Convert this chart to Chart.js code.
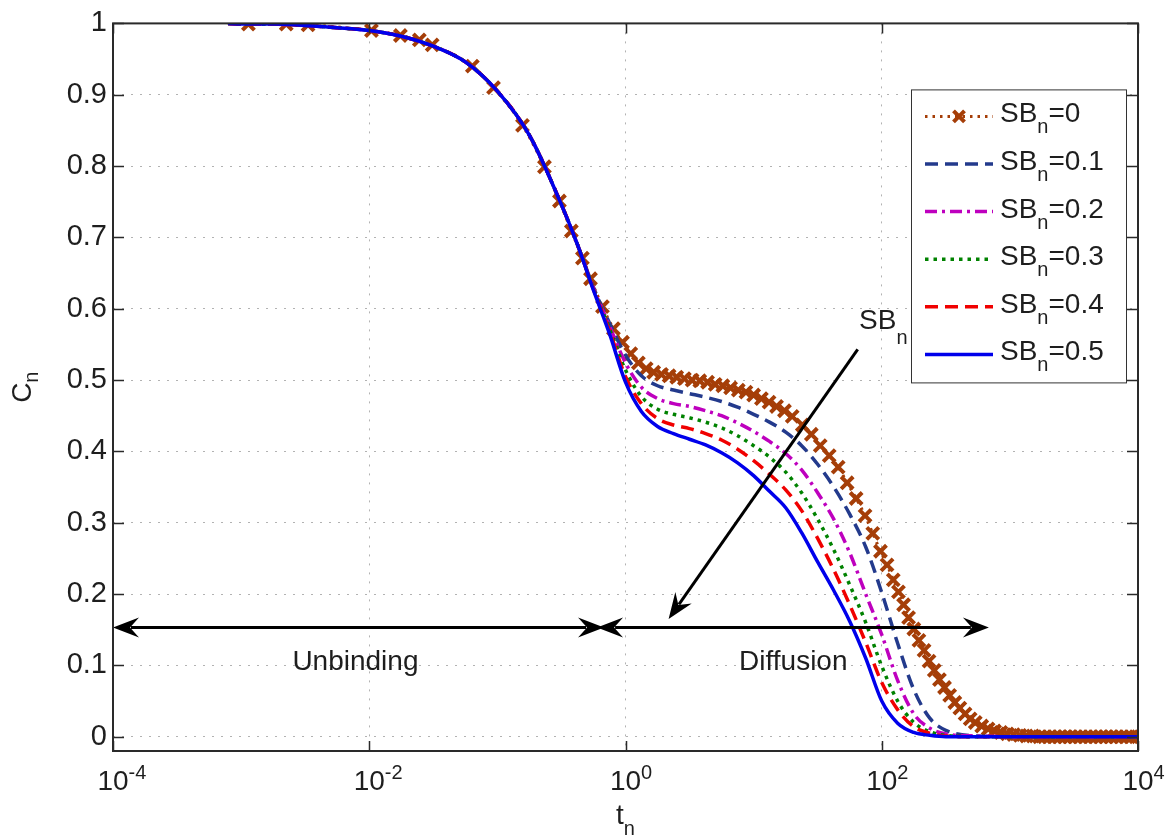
<!DOCTYPE html>
<html>
<head>
<meta charset="utf-8">
<title>Cn vs tn</title>
<script src="https://cdn.jsdelivr.net/npm/chart.js@4.4.1/dist/chart.umd.min.js"></script>
<style>
  html, body { margin: 0; padding: 0; background: #fff; }
  #wrap { width: 1166px; height: 840px; }
</style>
</head>
<body>
<div id="wrap"><canvas id="cn-chart" width="1166" height="840"></canvas></div>
<script>
// shared time grid (1/8 decade steps) for the five smooth curves
const tGrid = [0.00079, 0.001, 0.00178, 0.00316, 0.00562, 0.01, 0.0178, 0.0316, 0.0562, 0.1,
  0.178, 0.316, 0.422, 0.562, 0.75, 1, 1.33, 1.78, 2.37, 3.16,
  4.22, 5.62, 7.5, 10, 13.3, 17.8, 23.7, 31.6, 42.2, 56.2,
  75, 100, 133, 178, 237, 316, 562, 1000, 3162, 10000];

// early part is the same for every SBn
const headC = [1.000, 0.999, 0.999, 0.997, 0.994, 0.990, 0.982, 0.968, 0.946, 0.905, 0.843, 0.746, 0.690];

const sb01 = headC.concat([0.630, 0.580, 0.535, 0.506, 0.492, 0.486, 0.481, 0.476, 0.470, 0.462,
  0.452, 0.441, 0.427, 0.408, 0.382, 0.350, 0.312, 0.266, 0.202, 0.131,
  0.066, 0.026, 0.009, 0.001, 0, 0, 0]);
const sb02 = headC.concat([0.629, 0.576, 0.524, 0.490, 0.474, 0.467, 0.463, 0.457, 0.450, 0.440,
  0.428, 0.414, 0.397, 0.374, 0.342, 0.305, 0.258, 0.200, 0.143, 0.079,
  0.032, 0.012, 0.004, 0.001, 0, 0, 0]);
const sb03 = headC.concat([0.628, 0.572, 0.514, 0.477, 0.459, 0.452, 0.447, 0.441, 0.433, 0.422,
  0.408, 0.392, 0.371, 0.342, 0.305, 0.262, 0.213, 0.160, 0.099, 0.050,
  0.020, 0.007, 0.002, 0, 0, 0, 0]);
const sb04 = headC.concat([0.627, 0.569, 0.505, 0.467, 0.446, 0.437, 0.432, 0.425, 0.416, 0.403,
  0.387, 0.368, 0.346, 0.317, 0.278, 0.234, 0.185, 0.132, 0.076, 0.038,
  0.014, 0.005, 0.001, 0, 0, 0, 0]);
const sb05 = headC.concat([0.626, 0.565, 0.497, 0.456, 0.435, 0.425, 0.417, 0.409, 0.398, 0.384,
  0.366, 0.344, 0.321, 0.286, 0.245, 0.205, 0.162, 0.110, 0.050, 0.019,
  0.006, 0.002, 0, 0, 0, 0, 0]);

// SBn = 0, one entry per marker
const tMarked = [0.00114, 0.00225, 0.00333, 0.0104, 0.0175, 0.0246, 0.031, 0.0638, 0.0933, 0.157,
  0.233, 0.305, 0.378, 0.461, 0.533, 0.661, 0.805, 0.948,
  1.10, 1.26, 1.45, 1.66, 1.91, 2.19, 2.51, 2.88, 3.31, 3.80, 4.37, 5.01, 5.75, 6.61, 7.59, 8.71,
  10.0, 11.5, 13.2, 15.1, 17.4, 20.0, 24.0, 28.2, 33.1, 38.9, 45.7, 53.7, 63.1, 74.1, 85.1, 97.7,
  110, 123, 135, 148, 162, 178, 195, 214, 234, 257, 282, 309, 339, 372, 407, 447, 490, 537,
  603, 676, 759, 851, 955, 1070, 1200, 1350, 1510, 1700, 1860, 2040, 2240, 2450, 2690, 2950,
  3240, 3550, 3890, 4270, 4680, 5130, 5620, 6170, 6760, 7410, 8130, 8910, 10000];
const cMarked = [0.999, 0.999, 0.998, 0.990, 0.983, 0.977, 0.970, 0.940, 0.910, 0.857,
  0.799, 0.751, 0.709, 0.671, 0.642, 0.603, 0.572, 0.553,
  0.537, 0.524, 0.516, 0.511, 0.508, 0.506, 0.504, 0.502, 0.500, 0.499, 0.497, 0.494, 0.492, 0.489, 0.486, 0.483,
  0.479, 0.474, 0.469, 0.463, 0.457, 0.449, 0.437, 0.424, 0.408, 0.394, 0.378, 0.356, 0.334, 0.310, 0.285, 0.260,
  0.241, 0.220, 0.203, 0.185, 0.167, 0.151, 0.135, 0.121, 0.106, 0.093, 0.080, 0.069, 0.058, 0.048, 0.040, 0.032, 0.025, 0.020,
  0.015, 0.011, 0.008, 0.006, 0.004, 0.003, 0.002, 0.001, 0.001, 0, 0, 0, 0, 0, 0, 0,
  0, 0, 0, 0, 0, 0, 0, 0, 0, 0, 0, 0, 0];

const sbLabels = ['0', '0.1', '0.2', '0.3', '0.4', '0.5'];
const xTicks = [1e-4, 1e-2, 1, 1e2, 1e4];
const yTicks = [0, 0.1, 0.2, 0.3, 0.4, 0.5, 0.6, 0.7, 0.8, 0.9, 1];

const FONT = '"Liberation Sans", Arial, Helvetica, sans-serif';
const ink = '#1e1e1e';
const BIG = 28, SMALL = 20;

// line looks, legend order
const looks = [
  { color: 'rgb(165,62,8)', dash: [2.5, 5], width: 3, marker: true },
  { color: 'rgb(35,58,140)', dash: [13, 7], width: 3.5 },
  { color: 'rgb(190,0,190)', dash: [12, 5, 3, 5], width: 3.5 },
  { color: 'rgb(0,130,0)', dash: [3.5, 5], width: 3.5 },
  { color: 'rgb(240,0,0)', dash: [13, 7], width: 3.5 },
  { color: 'rgb(0,0,235)', dash: [], width: 3.5 }
];
const curveVals = [null, sb01, sb02, sb03, sb04, sb05];

const datasets = looks.map((lk, i) => {
  const pts = i === 0
    ? tMarked.map((t, k) => ({ x: t, y: cMarked[k] }))
    : tGrid.map((t, k) => ({ x: t, y: curveVals[i][k] }));
  return {
    label: 'SBn=' + sbLabels[i],
    data: pts,
    borderColor: lk.color,
    backgroundColor: lk.color,
    borderWidth: lk.width,
    borderDash: lk.dash,
    cubicInterpolationMode: 'monotone',
    pointRadius: lk.marker ? 8.5 : 0,
    pointStyle: 'crossRot',
    pointBorderWidth: 4,
    pointBorderColor: lk.color,
    order: 5 - i          // SBn=0.5 ends up on top
  };
});

// annotation arrows and labels, in data units
const notes = {
  unbinding: { from: [1e-4, 0.153], to: [0.68, 0.153] },
  diffusion: { from: [0.6, 0.153], to: [686, 0.153] },
  sbArrow:   { from: [64.9, 0.543], to: [2.17, 0.165] },
  unbText:   [0.0078, 0.104],
  difText:   [20.4, 0.104],
  sbText:    [66.5, 0.571]
};

function head(ctx, x, y, ang) {
  ctx.save();
  ctx.translate(x, y);
  ctx.rotate(ang);
  ctx.beginPath();
  ctx.moveTo(0, 0);
  ctx.lineTo(-26, -10);
  ctx.lineTo(-17, 0);
  ctx.lineTo(-26, 10);
  ctx.closePath();
  ctx.fill();
  ctx.restore();
}

function arrow(ctx, sx, sy, p, q, both) {
  const x0 = sx.getPixelForValue(p[0]), y0 = sy.getPixelForValue(p[1]);
  const x1 = sx.getPixelForValue(q[0]), y1 = sy.getPixelForValue(q[1]);
  const a = Math.atan2(y1 - y0, x1 - x0);
  ctx.beginPath();
  ctx.moveTo(x0 + (both ? 18 * Math.cos(a) : 0), y0 + (both ? 18 * Math.sin(a) : 0));
  ctx.lineTo(x1 - 18 * Math.cos(a), y1 - 18 * Math.sin(a));
  ctx.stroke();
  head(ctx, x1, y1, a);
  if (both) head(ctx, x0, y0, a + Math.PI);
}

// text with a subscript, returns width
function subText(ctx, x, y, main, sub, tail, drop) {
  ctx.textAlign = 'left';
  ctx.textBaseline = 'alphabetic';
  ctx.font = BIG + 'px ' + FONT;
  ctx.fillText(main, x, y);
  let w = ctx.measureText(main).width;
  ctx.font = SMALL + 'px ' + FONT;
  ctx.fillText(sub, x + w, y + drop);
  w += ctx.measureText(sub).width;
  if (tail) {
    ctx.font = BIG + 'px ' + FONT;
    ctx.fillText(tail, x + w, y);
    w += ctx.measureText(tail).width;
  }
  return w;
}

const frame = {
  id: 'frame',
  afterDatasetsDraw(chart) {
    const { ctx, chartArea: a, scales: { x, y } } = chart;
    ctx.save();
    // annotations
    ctx.strokeStyle = '#000';
    ctx.fillStyle = '#000';
    ctx.lineWidth = 3;
    arrow(ctx, x, y, notes.unbinding.from, notes.unbinding.to, true);
    arrow(ctx, x, y, notes.diffusion.from, notes.diffusion.to, true);
    arrow(ctx, x, y, notes.sbArrow.from, notes.sbArrow.to, false);

    ctx.fillStyle = ink;
    ctx.font = BIG + 'px ' + FONT;
    ctx.textAlign = 'center';
    ctx.textBaseline = 'middle';
    ctx.fillText('Unbinding', x.getPixelForValue(notes.unbText[0]), y.getPixelForValue(notes.unbText[1]));
    ctx.fillText('Diffusion', x.getPixelForValue(notes.difText[0]), y.getPixelForValue(notes.difText[1]));
    subText(ctx, x.getPixelForValue(notes.sbText[0]), y.getPixelForValue(notes.sbText[1]), 'SB', 'n', '', 15);

    // box and inward ticks
    ctx.strokeStyle = '#2a2a2a';
    ctx.lineWidth = 2;
    ctx.strokeRect(a.left, a.top, a.right - a.left, a.bottom - a.top);
    ctx.lineWidth = 1.5;
    ctx.beginPath();
    yTicks.forEach(v => {
      const py = Math.round(y.getPixelForValue(v)) + 0.5;
      ctx.moveTo(a.left, py); ctx.lineTo(a.left + 11, py);
      ctx.moveTo(a.right, py); ctx.lineTo(a.right - 11, py);
    });
    xTicks.forEach(v => {
      const px = Math.round(x.getPixelForValue(v)) + 0.5;
      ctx.moveTo(px, a.bottom); ctx.lineTo(px, a.bottom - 10);
      ctx.moveTo(px, a.top); ctx.lineTo(px, a.top + 10);
    });
    ctx.stroke();
    ctx.restore();
  },
  afterDraw(chart) {
    const { ctx, chartArea: a, scales: { x } } = chart;
    ctx.save();
    ctx.fillStyle = ink;

    // x tick labels as powers of ten
    xTicks.forEach(v => {
      const px = x.getPixelForValue(v);
      ctx.font = BIG + 'px ' + FONT;
      ctx.textAlign = 'center';
      ctx.textBaseline = 'alphabetic';
      ctx.fillText('10', px, a.bottom + 39);
      const w = ctx.measureText('10').width;
      ctx.font = SMALL + 'px ' + FONT;
      ctx.textAlign = 'left';
      ctx.fillText(String(Math.round(Math.log10(v))), px + w / 2, a.bottom + 28);
    });

    // axis titles
    const cx = (a.left + a.right) / 2;
    ctx.font = BIG + 'px ' + FONT;
    const tw = ctx.measureText('t').width;
    const cw = ctx.measureText('C').width;
    ctx.font = SMALL + 'px ' + FONT;
    const nw = ctx.measureText('n').width;
    subText(ctx, cx - (tw + nw) / 2, a.bottom + 73, 't', 'n', '', 11);

    ctx.save();
    const cy = (a.top + a.bottom) / 2;
    ctx.translate(31, cy + (cw + nw) / 2);
    ctx.rotate(-Math.PI / 2);
    subText(ctx, 0, 0, 'C', 'n', '', 7);
    ctx.restore();

    // legend box
    const bx = a.right - 227, by = a.top + 66, bw = 215, bh = 293;
    ctx.fillStyle = '#fff';
    ctx.fillRect(bx, by, bw, bh);
    ctx.strokeStyle = '#333';
    ctx.lineWidth = 1;
    ctx.strokeRect(bx + 0.5, by + 0.5, bw, bh);
    looks.forEach((lk, i) => {
      const ly = by + 27 + i * 47.6;
      ctx.save();
      ctx.strokeStyle = lk.color;
      ctx.lineWidth = lk.width;
      ctx.setLineDash(lk.dash);
      ctx.beginPath();
      ctx.moveTo(bx + 14, ly);
      ctx.lineTo(bx + 82, ly);
      ctx.stroke();
      if (lk.marker) {
        ctx.setLineDash([]);
        ctx.lineWidth = 4;
        const mx = bx + 48, r = 5.5;
        ctx.beginPath();
        ctx.moveTo(mx - r, ly - r); ctx.lineTo(mx + r, ly + r);
        ctx.moveTo(mx - r, ly + r); ctx.lineTo(mx + r, ly - r);
        ctx.stroke();
      }
      ctx.restore();
      ctx.fillStyle = ink;
      subText(ctx, bx + 89, ly + 6, 'SB', 'n', '=' + sbLabels[i], 11);
    });
    ctx.restore();
  }
};

const gridLook = { color: 'rgba(0,0,0,0.3)', lineWidth: 1, drawTicks: false };

new Chart('cn-chart', {
  type: 'line',
  data: { datasets: datasets },
  options: {
    responsive: false,
    animation: false,
    events: [],
    layout: { padding: { top: 19, right: 28, bottom: 0, left: 0 } },
    plugins: { legend: { display: false }, tooltip: { enabled: false } },
    scales: {
      x: {
        type: 'logarithmic',
        min: 1e-4,
        max: 1e4,
        afterBuildTicks: s => { s.ticks = xTicks.map(v => ({ value: v })); },
        afterFit: s => { s.height = 89; },
        ticks: { display: false },
        grid: gridLook,
        border: { display: false, dash: [2, 7] }
      },
      y: {
        type: 'linear',
        min: -0.02,
        max: 1,
        afterBuildTicks: s => { s.ticks = yTicks.map(v => ({ value: v })); },
        afterFit: s => { s.width = 113; },
        ticks: {
          padding: 6,
          color: ink,
          font: { family: FONT, size: 29 },
          callback: v => (v === 0 || v === 1) ? String(v) : v.toFixed(1)
        },
        grid: gridLook,
        border: { display: false, dash: [2, 7] }
      }
    }
  },
  plugins: [frame]
});
</script>
</body>
</html>
